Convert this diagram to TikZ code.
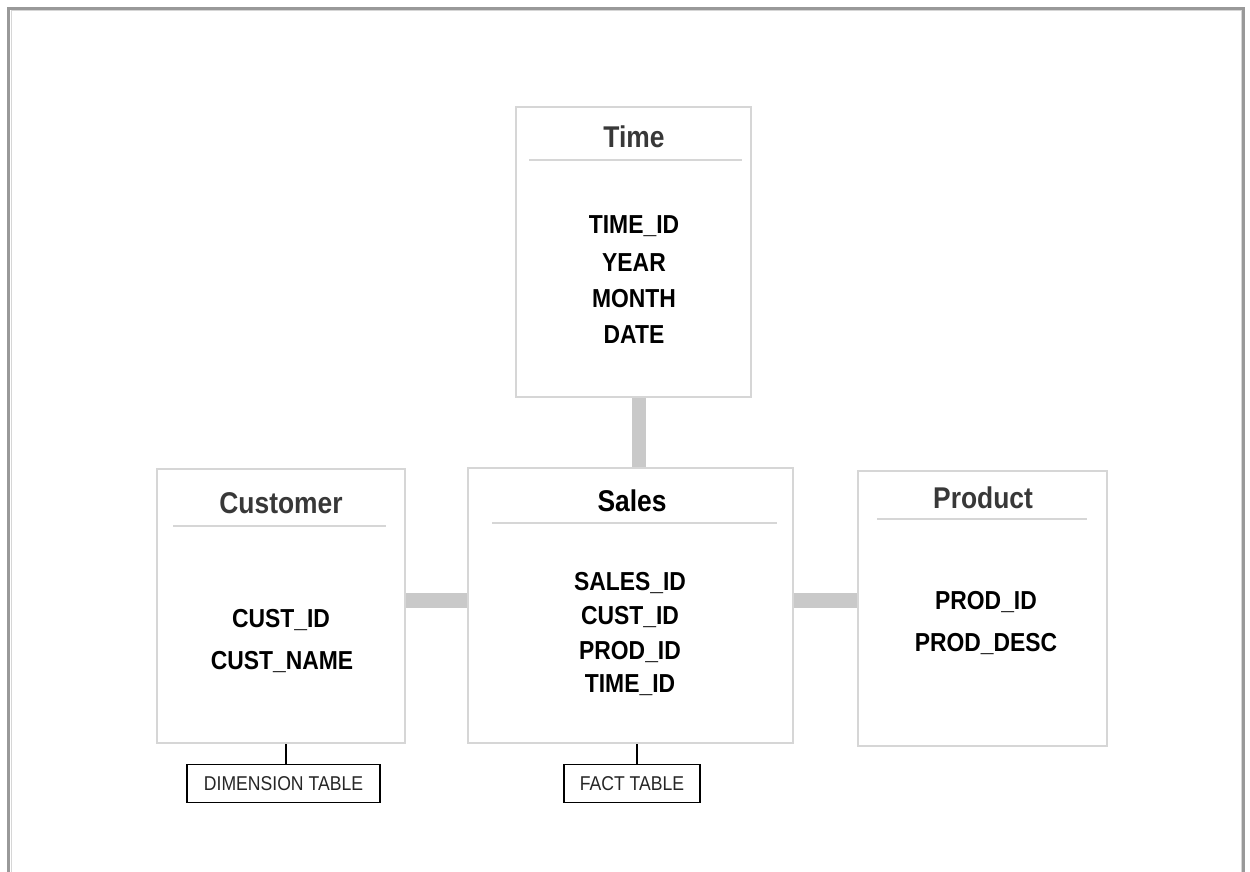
\documentclass[tikz,border=0pt]{standalone}
\usepackage{fontspec}
\setmainfont{Liberation Sans}[FakeStretch=0.88]
\definecolor{framegray}{HTML}{999999}
\definecolor{boxgray}{HTML}{D6D6D6}
\definecolor{bargray}{HTML}{C9C9C9}
\definecolor{titlegray}{HTML}{383838}
\tikzset{
  tbl/.style={draw=boxgray, line width=2.2pt, fill=white, inner sep=0pt},
  ttl/.style={anchor=base, inner sep=0pt, text=titlegray, font=\fontsize{30}{34}\selectfont\bfseries},
  fld/.style={anchor=base, inner sep=0pt, text=black, font=\fontsize{26}{30}\selectfont\bfseries},
  sep/.style={draw=boxgray, line width=1.3pt},
  bar/.style={draw=bargray, line width=14.5pt},
  lbl/.style={draw=black, line width=1.3pt, fill=white, inner sep=0pt, text=black!85, font=\fontsize{20}{24}\selectfont},
  tick/.style={draw=black, line width=1.3pt}
}
\begin{document}
\begin{tikzpicture}[x=1pt,y=-1pt]
\useasboundingbox (0,0) rectangle (1250,872);
\begin{scope}
\clip (0,0) rectangle (1250,872);
\draw[framegray, line width=2.5pt] (8.5,900) -- (8.5,8.5) -- (1243.5,8.5) -- (1243.5,900);
\draw[boxgray, line width=1pt] (11,900) -- (11,11) -- (1241,11) -- (1241,900);
\end{scope}

% table boxes
\node[tbl, minimum width=235pt, minimum height=290pt] (time) at (633.5,252) {};
\node[tbl, minimum width=248pt, minimum height=274pt] (cust) at (281,606) {};
\node[tbl, minimum width=325pt, minimum height=275pt] (sales) at (630.5,605.5) {};
\node[tbl, minimum width=249pt, minimum height=275pt] (prod) at (982.5,608.5) {};

% connector coordinates
\coordinate (vx) at (639,0);
\coordinate (hy) at (0,600.5);
\coordinate (dx) at (286,0);
\coordinate (fx) at (637,0);

% connectors
\draw[bar] (time.south -| vx) -- (sales.north -| vx);
\draw[bar] (cust.east |- hy) -- (sales.west |- hy);
\draw[bar] (sales.east |- hy) -- (prod.west |- hy);

% titles and separators
\node[ttl] (timeT) at (634,147) {Time};
\draw[sep] (529,160) -- (742,160);
\node[ttl] (custT) at (281,513) {Customer};
\draw[sep] (173,526) -- (386,526);
\node[ttl, text=black] (salesT) at (632,511) {Sales};
\draw[sep] (492,523) -- (777,523);
\node[ttl] (prodT) at (983,508) {Product};
\draw[sep] (877,519) -- (1087,519);

% fields
\node[fld] (t1) at (634,233.5) {TIME\_ID};
\node[fld] (t2) at (634,271) {YEAR};
\node[fld] (t3) at (634,307.5) {MONTH};
\node[fld] (t4) at (634,343.5) {DATE};

\node[fld] (c1) at (281,627.5) {CUST\_ID};
\node[fld] (c2) at (282,669) {CUST\_NAME};

\node[fld] (s1) at (630,590) {SALES\_ID};
\node[fld] (s2) at (630,624.5) {CUST\_ID};
\node[fld] (s3) at (630,659) {PROD\_ID};
\node[fld] (s4) at (630,692.5) {TIME\_ID};

\node[fld] (p1) at (986,609.5) {PROD\_ID};
\node[fld] (p2) at (986,651) {PROD\_DESC};

% annotation labels
\node[lbl, minimum width=193pt, minimum height=38pt] (dim) at (283.5,783.5) {DIMENSION TABLE};
\node[lbl, minimum width=136pt, minimum height=38pt] (fact) at (632,783.5) {FACT TABLE};
\draw[tick] (cust.south -| dx) -- (dim.north -| dx);
\draw[tick] (sales.south -| fx) -- (fact.north -| fx);
\end{tikzpicture}
\end{document}
